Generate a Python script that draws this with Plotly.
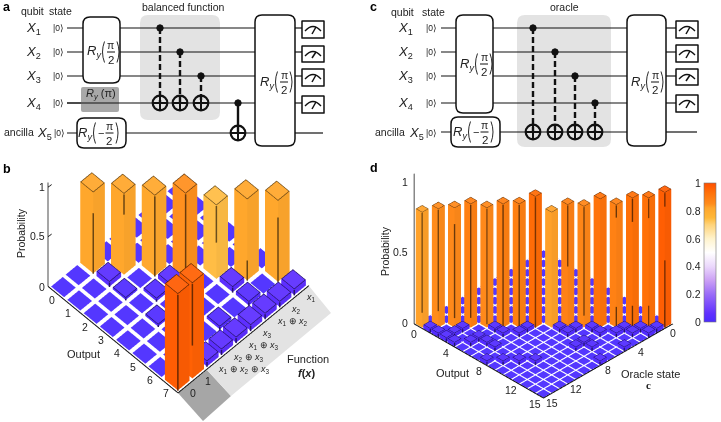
import numpy as np
import plotly.graph_objects as go

W, H = 721, 422
FONT = "Liberation Sans"
INK = "#222222"

# ---------- data ----------
OUTPUT_TICKS_B = list(range(8))
FUNCTION_LABELS_B = ["0", "1", "<i>x</i><sub>1</sub> ⊕ <i>x</i><sub>2</sub> ⊕ <i>x</i><sub>3</sub>",
                     "<i>x</i><sub>2</sub> ⊕ <i>x</i><sub>3</sub>", "<i>x</i><sub>1</sub> ⊕ <i>x</i><sub>3</sub>",
                     "<i>x</i><sub>3</sub>", "<i>x</i><sub>1</sub> ⊕ <i>x</i><sub>2</sub>",
                     "<i>x</i><sub>2</sub>", "<i>x</i><sub>1</sub>"]
# tall bars of panel b: (output, function index, probability)
TALL_OUTPUT_B = [7, 7, 0, 1, 2, 3, 4, 5, 6]
TALL_FUNC_B = [0, 1, 2, 3, 4, 5, 6, 7, 8]
TALL_PROB_B = [0.97, 0.96, 0.815, 0.815, 0.81, 0.845, 0.74, 0.815, 0.815]
# small bars of panel b
SMALL_OUTPUT_B = [7, 7, 7, 7, 7, 7, 7, 6, 5, 6, 1, 3, 2, 3, 4]
SMALL_FUNC_B = [2, 3, 4, 5, 6, 7, 8, 6, 6, 4, 2, 4, 2, 3, 2]
SMALL_PROB_B = [0.05, 0.05, 0.05, 0.055, 0.05, 0.05, 0.055, 0.035, 0.05, 0.025, 0.045, 0.045, 0.018, 0.025, 0.018]

TICKS_D = [0, 4, 8, 12, 15]
TALL_PROB_D = [0.825, 0.849, 0.856, 0.884, 0.856, 0.884, 0.884, 0.938,
               0.825, 0.879, 0.867, 0.92, 0.879, 0.927, 0.927, 0.967]
SMALL_I_D = [1, 2, 3, 3, 3, 4, 5, 5, 6, 5, 6, 7, 8, 9, 7, 7, 10, 11,
             9, 10, 10, 11, 12, 12, 13, 13, 14, 15, 14, 15, 12, 15, 15, 13]
SMALL_J_D = [0, 0, 0, 1, 2, 0, 1, 2, 2, 4, 4, 2, 0, 1, 5, 6, 2, 3,
             8, 8, 9, 10, 8, 10, 11, 12, 12, 13, 13, 14, 7, 7, 10, 8]
SMALL_PROB_D = [0.025] * len(SMALL_I_D)

COLORBAR_TICKS = [0, 0.2, 0.4, 0.6, 0.8, 1]
CMAP = [(0, "#4A2BFF"), (0.06, "#6030FF"), (0.2, "#9A6CF8"), (0.3, "#CBA0F5"), (0.4, "#EBD8FC"),
        (0.5, "#FFFFFF"), (0.6, "#FFF3CC"), (0.7, "#FFD37A"), (0.75, "#FFB838"), (0.82, "#FFA62C"),
        (0.85, "#FF8C1C"), (0.93, "#FF7008"), (1, "#FF4F00")]

# visible part of each tall bar's front edge (fractions of bar height)
EDGE_B = [[(0, 1)], [(0.35, 1)], [(0, 0.75)], [(0.75, 1)], [(0, 1)], [(0, 1)], [(0.5, 1)], [(0, 0.25)], [(0, 0.8)]]
EDGE_D = [[(.13, 1)], [(.14, 1)], [(.08, .87)], [(.08, 1)], [(.03, 1)], [(0, 1)], [(0, 1)], [(0, 1)],
          [], [(.5, 1)], [(.1, 1)], [], [(0, .17), (.9, 1)], [(0, .17), (.82, 1)], [(0, .17), (.85, 1)],
          [(0, .5), (.9, 1)]]


def hex2rgb(h):
    return np.array([int(h[i:i + 2], 16) for i in (1, 3, 5)], float)


def cmap(v):
    xs = [c[0] for c in CMAP]
    arr = np.array([hex2rgb(c[1]) for c in CMAP])
    return np.array([np.interp(v, xs, arr[:, k]) for k in range(3)])


def rgbs(c):
    c = np.clip(c, 0, 255)
    return f"rgb({int(c[0])},{int(c[1])},{int(c[2])})"


def bars_mesh(items, w, edges=None, thick=0.05, scene="scene", floor=0.004):
    """items: (u index, v index, height). Edges are thin quads of the same mesh."""
    X, Y, Z, I, J, K, C = [], [], [], [], [], [], []
    eps = 0.015

    def quad(p, col):
        n = len(X)
        for a, b, c in p:
            X.append(a); Y.append(b); Z.append(c)
        I.extend([n, n]); J.extend([n + 1, n + 2]); K.extend([n + 2, n + 3])
        C.extend([col, col])

    for idx, (u, v, h) in enumerate(items):
        m = (1 - w) / 2
        x0, x1, y0, y1 = u + m, u + 1 - m, v + m, v + 1 - m
        base = cmap(h)
        top = rgbs(base + (255 - base) * 0.06)
        quad([(x0, y0, h), (x1, y0, h), (x1, y1, h), (x0, y1, h)], top)
        if h > floor:
            quad([(x0, y0, 0), (x1, y0, 0), (x1, y0, h), (x0, y0, h)], rgbs(base))        # left on screen
            quad([(x1, y0, 0), (x1, y1, 0), (x1, y1, h), (x1, y0, h)], rgbs(base * 0.97))  # right on screen
            ink = rgbs(base * 0.42)
            zt = h + 0.002
            t = thick
            quad([(x0, y0, zt), (x1, y0, zt), (x1, y0 + t, zt), (x0, y0 + t, zt)], ink)
            quad([(x0, y1 - t, zt), (x1, y1 - t, zt), (x1, y1, zt), (x0, y1, zt)], ink)
            quad([(x0, y0, zt), (x0 + t, y0, zt), (x0 + t, y1, zt), (x0, y1, zt)], ink)
            quad([(x1 - t, y0, zt), (x1, y0, zt), (x1, y1, zt), (x1 - t, y1, zt)], ink)
            spans = edges[idx] if edges is not None else [(0, 1)]
            hw = t * 0.7
            for s0, s1 in spans:
                xa, ya_ = x1 + eps, y0 - eps
                quad([(xa - hw, ya_ - hw, s0 * h), (xa + hw, ya_ + hw, s0 * h),
                      (xa + hw, ya_ + hw, s1 * h), (xa - hw, ya_ - hw, s1 * h)], ink)
    return go.Mesh3d(x=X, y=Y, z=Z, i=I, j=J, k=K, facecolor=C, flatshading=True,
                     lighting=dict(ambient=1, diffuse=0, specular=0, fresnel=0, roughness=1),
                     hoverinfo="skip", scene=scene, showscale=False)


def line3d(xs, ys, zs, scene, width=2, color="#111111"):
    return go.Scatter3d(x=xs, y=ys, z=zs, mode="lines", line=dict(color=color, width=width),
                        hoverinfo="skip", scene=scene, showlegend=False)


# ---------- helpers for the schematic (pixel -> paper) ----------
shapes, annos = [], []


def px(x):
    return x / W


def py(y):
    return 1 - y / H


def P(a, b):
    return f"{px(a):.5f},{py(b):.5f}"


def seg(x0, y0, x1, y1, width=1.2, dash=None, color="#111111"):
    shapes.append(dict(type="line", xref="paper", yref="paper", x0=px(x0), y0=py(y0), x1=px(x1), y1=py(y1),
                       line=dict(color=color, width=width, dash=dash)))


def poly(points, fill):
    d = "M" + " L".join(P(a, b) for a, b in points) + " Z"
    shapes.append(dict(type="path", xref="paper", yref="paper", path=d, fillcolor=fill, line=dict(width=0), layer="below"))


def rbox(x0, y0, x1, y1, r=6, fill="white", line="#111111", width=1.5):
    d = (f"M{P(x0 + r, y0)} L{P(x1 - r, y0)} Q{P(x1, y0)} {P(x1, y0 + r)} L{P(x1, y1 - r)} Q{P(x1, y1)} {P(x1 - r, y1)} "
         f"L{P(x0 + r, y1)} Q{P(x0, y1)} {P(x0, y1 - r)} L{P(x0, y0 + r)} Q{P(x0, y0)} {P(x0 + r, y0)} Z")
    shapes.append(dict(type="path", xref="paper", yref="paper", path=d, fillcolor=fill,
                       line=dict(color=line, width=width) if width else dict(width=0)))


def circle(cx, cy, r, fill, width=2):
    shapes.append(dict(type="circle", xref="paper", yref="paper", x0=px(cx - r), x1=px(cx + r), y0=py(cy + r), y1=py(cy - r),
                       fillcolor=fill, line=dict(color="#111111", width=width)))


def txt(x, y, s, size=10.5, anchor="center", color=INK, angle=0, family=FONT):
    annos.append(dict(xref="paper", yref="paper", x=px(x), y=py(y), text=s, showarrow=False, xanchor=anchor, yanchor="middle",
                      font=dict(family=family, size=size, color=color), textangle=angle, borderpad=0, borderwidth=0))


def paren(x, cy, side, half=10.5, bulge=3.5):
    shapes.append(dict(type="path", xref="paper", yref="paper",
                       path=f"M{P(x + side * 1.5, cy - half)} Q{P(x + side * (bulge - 6), cy)} {P(x + side * 1.5, cy + half)}",
                       line=dict(color="#111111", width=0.9)))


def ry(cx, cy, neg=False):
    if neg:
        txt(cx - 15, cy, "<i>R<sub>y</sub></i>", 13)
        paren(cx - 6, cy, 1)
        txt(cx + 0.5, cy, "−", 11)
        txt(cx + 9.5, cy - 7, "π", 10.5)
        seg(cx + 5.5, cy, cx + 13.5, cy, 1)
        txt(cx + 9.5, cy + 8, "2", 11.5)
        paren(cx + 17.5, cy, -1)
    else:
        txt(cx - 8, cy, "<i>R<sub>y</sub></i>", 13)
        paren(cx + 1, cy, 1)
        txt(cx + 9, cy - 7, "π", 10.5)
        seg(cx + 5, cy, cx + 13, cy, 1)
        txt(cx + 9, cy + 8, "2", 11.5)
        paren(cx + 16.5, cy, -1)


def meter(x0, y0, x1, y1):
    rbox(x0, y0, x1, y1, r=0.1, width=1.5)
    cx = (x0 + x1) / 2
    shapes.append(dict(type="path", xref="paper", yref="paper",
                       path=f"M{P(x0 + 3, y0 + 10)} Q{P(cx, y0 + 1)} {P(x1 - 3, y0 + 10)}",
                       line=dict(color="#111111", width=1.3)))
    seg(cx - 1, y1 - 4, cx + 3, y0 + 6, 1.5)


def target(x, y):
    circle(x, y, 7.3, "rgba(0,0,0,0)", 2.2)
    seg(x - 7, y, x + 7, y, 2)
    seg(x, y - 7, x, y + 7, 2)


def cnot(x, yc, yt, dash="6px,3px"):
    seg(x, yc, x, yt, 2.4, dash)
    circle(x, yc, 3.2, "#111111", 1)
    target(x, yt)


# ---------- panel a ----------
ya = [28, 52, 76, 103, 133]
rbox(140, 15, 220, 120, r=8, fill="#E3E3E3", width=0)
for y in ya:
    seg(67, y, 255, y)
for y, end in zip(ya, [302, 302, 302, 302, 323]):
    seg(295, y, end, y)
rbox(83, 17, 120, 83, r=7)
rbox(81, 87, 119, 112, r=2, fill="#A8A8A8", width=0)
seg(67, 103, 119, 103)
rbox(77, 118, 126, 148, r=7)
rbox(255, 15, 295, 146, r=7)
for x, yc_ in zip([160, 180, 201], ya[:3]):
    cnot(x, yc_, ya[3])
cnot(238, ya[3], ya[4], dash=None)
for y0, y1 in [(21, 38), (46, 62), (69, 86), (96, 113)]:
    meter(302, y0, 324, y1)
ry(102, 52)
txt(101, 94, "<i>R<sub>y</sub></i> (π)", 11)
ry(100, 133, neg=True)
ry(275, 82)
txt(7, 7, "<b>a</b>", 12.5, color="#000")
txt(32, 11, "qubit", 10.5)
txt(60, 11, "state", 10.5)
txt(183, 7, "balanced function", 10.5)
for i, y in enumerate(ya[:4]):
    txt(33, y + 0.5, f"<i>X</i><sub>{i + 1}</sub>", 13)
    txt(58, y, "|0⟩", 8.5)
txt(4, 132, "ancilla", 10.5, anchor="left")
txt(44, 133, "<i>X</i><sub>5</sub>", 13)
txt(59, 133, "|0⟩", 8.5)

# ---------- panel c ----------
yc = [28, 52, 76, 103, 132]
rbox(517, 15, 611, 147, r=8, fill="#E3E3E3", width=0)
for y in yc:
    seg(441, y, 627, y)
for y, end in zip(yc, [676, 676, 676, 676, 697]):
    seg(666, y, end, y)
rbox(456, 15, 493, 113, r=7)
rbox(451, 117, 500, 147, r=7)
rbox(627, 15, 666, 146, r=7)
for x, y in zip([533, 555, 575, 595], yc[:4]):
    cnot(x, y, yc[4])
for y0, y1 in [(21, 38), (45, 62), (69, 85), (95, 112)]:
    meter(676, y0, 698, y1)
ry(475, 64)
ry(475, 132, neg=True)
ry(646, 82)
txt(373, 7, "<b>c</b>", 12.5, color="#000")
txt(402, 12, "qubit", 10.5)
txt(434, 12, "state", 10.5)
txt(564, 7, "oracle", 10.5)
for i, y in enumerate(yc[:4]):
    txt(405, y + 0.5, f"<i>X</i><sub>{i + 1}</sub>", 13)
    txt(432, y, "|0⟩", 8.5)
txt(375, 132, "ancilla", 10.5, anchor="left")
txt(416, 133, "<i>X</i><sub>5</sub>", 13)
txt(432, 133, "|0⟩", 8.5)

# ---------- panel b strips ----------
poly([(178, 393), (203, 421), (231, 396), (207, 370)], "#A6A6A6")
poly([(207, 370), (231, 396), (331, 313), (309, 286)], "#E3E3E3")
txt(7, 169, "<b>b</b>", 12.5, color="#000")
txt(374, 168, "<b>d</b>", 12.5, color="#000")
txt(21, 233, "Probability", 10.5, angle=-90)
txt(83, 354, "Output", 11)
txt(308, 359, "Function", 11)
txt(306, 373, "<b><i>f</i>(<i>x</i>)</b>", 11)
txt(385, 251, "Probability", 10.5, angle=-90)
txt(452, 373, "Output", 11)
txt(650, 374, "Oracle state", 11)
txt(648, 385, "<b>c</b>", 11, family="Liberation Serif")
for s, yy in [("1", 187), ("0.5", 236), ("0", 287)]:
    txt(45, yy, s, 10.5, anchor="right")
for s, yy in [("1", 182), ("0.5", 252), ("0", 323)]:
    txt(408, yy, s, 10.5, anchor="right")
for t in COLORBAR_TICKS:
    txt(701, 322 - 139 * t, f"{t:g}", 10.5, anchor="right")

# ---------- 3-D panels ----------
fig = go.Figure()

# b: x = output (0..8), y = function index (0..9)
taken_b = set(zip(TALL_OUTPUT_B, TALL_FUNC_B)) | set(zip(SMALL_OUTPUT_B, SMALL_FUNC_B))
flat_b = [(i, j, 0.0) for i in range(8) for j in range(9) if (i, j) not in taken_b]
small_b = list(zip(SMALL_OUTPUT_B, SMALL_FUNC_B, SMALL_PROB_B))
tall_b = list(zip(TALL_OUTPUT_B, TALL_FUNC_B, TALL_PROB_B))
fig.add_trace(bars_mesh(flat_b + small_b, 0.8, thick=0.035, scene="scene"))
fig.add_trace(bars_mesh(tall_b, 0.8, edges=EDGE_B, thick=0.035, scene="scene"))
fig.add_trace(line3d([0, 8, 8, None], [0, 0, 9, None], [0, 0, 0, None], "scene"))
fig.add_trace(line3d([0, 0, None, 0, 0, None, 0, 0], [0, 0, None, 0, 0.25, None, 0, 0.25],
                     [0, 1.05, None, 0.5, 0.5, None, 1, 1], "scene", width=1.5))

# d: x = output (0..16), y = reversed oracle state (0..16)
tall_d = [(i, i, p) for i, p in enumerate(TALL_PROB_D)]
small_d = list(zip(SMALL_I_D, SMALL_J_D, SMALL_PROB_D))
taken = {(a, b) for a, b, _ in tall_d} | {(a, b) for a, b, _ in small_d}
flat_d = [(i, j, 0.0) for i in range(16) for j in range(16) if (i, j) not in taken]
fig.add_trace(bars_mesh(flat_d, 0.86, scene="scene2"))
fig.add_trace(bars_mesh(small_d, 0.86, thick=0.06, scene="scene2"))
fig.add_trace(bars_mesh(tall_d, 0.8, edges=EDGE_D, thick=0.06, scene="scene2"))
fig.add_trace(line3d([0, 16, 16, None], [0, 0, 16, None], [0, 0, 0, None], "scene2"))
fig.add_trace(line3d([0, 0], [0, 0], [0, 1.08], "scene2", width=1.5))

# colour bar carried by an invisible marker
fig.add_trace(go.Scatter(x=[0], y=[0], mode="markers", hoverinfo="skip", showlegend=False,
                         marker=dict(size=1, opacity=0, color=[0], cmin=0, cmax=1,
                                     colorscale=[[a, b] for a, b in CMAP], showscale=True,
                                     colorbar=dict(x=704 / W, xanchor="left", y=(H - 322) / H, yanchor="bottom",
                                                   len=139 / H, lenmode="fraction", thickness=12, thicknessmode="pixels",
                                                   xpad=0, ypad=0, ticks="", showticklabels=False,
                                                   outlinewidth=0.6, outlinecolor="#777"))))


def hidden(rng):
    return dict(visible=False, range=rng, autorange=False, showspikes=False)


def eye(elev, d):
    e = np.radians(elev)
    return dict(x=d * np.cos(e) / np.sqrt(2), y=-d * np.cos(e) / np.sqrt(2), z=d * np.sin(e))


TICK = dict(family=FONT, size=10.5, color=INK)
ann_b = [dict(x=i + 0.5, y=0, z=0, text=str(i), showarrow=False, xshift=-4, yshift=-7, font=TICK) for i in OUTPUT_TICKS_B]
for j, s in enumerate(FUNCTION_LABELS_B):
    ann_b.append(dict(x=8, y=j + 0.5, z=0, text=s, showarrow=False, xanchor="left", xshift=2 if j > 1 else 3, yshift=-6,
                      font=dict(family=FONT, size=9 if j > 1 else 10.5, color=INK)))
ann_d = [dict(x=i + 0.5, y=0, z=0, text=str(i), showarrow=False, xshift=-4, yshift=-8, font=TICK) for i in TICKS_D]
ann_d += [dict(x=16, y=15 - c + 0.5, z=0, text=str(c), showarrow=False, xshift=4, yshift=-7, font=TICK) for c in TICKS_D]

S_B = 136.0
S_D = 127.6
fig.update_layout(
    width=W, height=H, autosize=False, margin=dict(l=0, r=0, t=0, b=0),
    paper_bgcolor="white", plot_bgcolor="rgba(0,0,0,0)", showlegend=False,
    xaxis=dict(visible=False, range=[-1, 1], domain=[0, 0.01]), yaxis=dict(visible=False, range=[-1, 1], domain=[0, 0.01]),
    shapes=shapes, annotations=annos,
    scene=dict(domain=dict(x=[0, 357 / W], y=[0, (H - 150) / H]),
               xaxis=hidden([-2, 10]), yaxis=hidden([-2, 11]), zaxis=hidden([-1.1, 1.1]),
               aspectmode="manual",
               aspectratio=dict(x=12 * 16.25 / 0.7071 / S_B, y=13 * 14.55 / 0.7071 / S_B, z=2.2 * 172.6 / S_B),
               camera=dict(projection=dict(type="orthographic"), eye=eye(55, 3),
                           center=dict(x=0, y=0, z=0), up=dict(x=0, y=0, z=1)),
               annotations=ann_b, bgcolor="rgba(0,0,0,0)"),
    scene2=dict(domain=dict(x=[370 / W, 717 / W], y=[0, (H - 170) / H]),
                xaxis=hidden([-1, 17]), yaxis=hidden([-1, 17]), zaxis=hidden([-0.9, 1.3]),
                aspectmode="manual",
                aspectratio=dict(x=18 * 8.19 / 0.7071 / S_D, y=18 * 8.19 / 0.7071 / S_D, z=2.2 * 172 / S_D),
                camera=dict(projection=dict(type="orthographic"), eye=eye(35, 3),
                            center=dict(x=0, y=0, z=0), up=dict(x=0, y=0, z=1)),
                annotations=ann_d, bgcolor="rgba(0,0,0,0)"),
)
fig.write_html("out.html", config=dict(displayModeBar=False),
               post_script="document.body.style.margin='0';document.body.style.overflow='hidden';")
